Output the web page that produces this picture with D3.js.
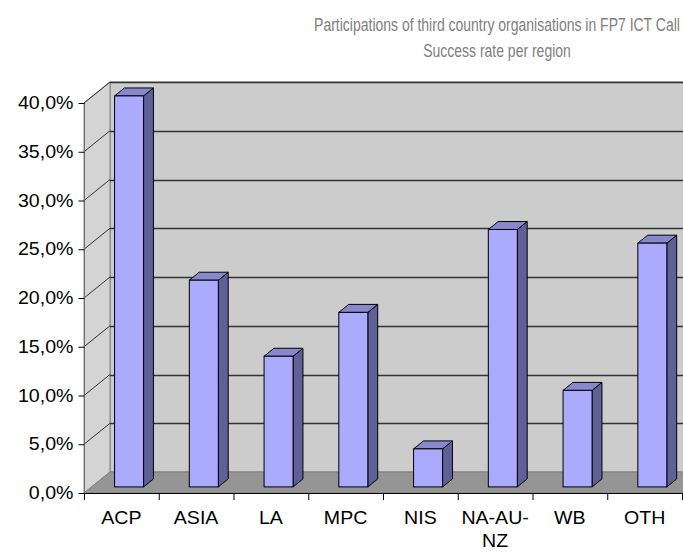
<!DOCTYPE html>
<html>
<head>
<meta charset="utf-8">
<script src="https://cdn.jsdelivr.net/npm/d3@7"></script>
<style>
  body { margin: 0; background: #fff; }
  svg { display: block; }
  text { font-family: "Liberation Sans", Arial, sans-serif; }
</style>
</head>
<body>
<svg width="683" height="552"></svg>
<script>
// Chart data
var categories = ['ACP', 'ASIA', 'LA', 'MPC', 'NIS', 'NA-AU-NZ', 'WB', 'OTH'];
var successRates = [0.401, 0.212, 0.134, 0.179, 0.039, 0.264, 0.099, 0.250];
var yTicks = [0, 0.05, 0.10, 0.15, 0.20, 0.25, 0.30, 0.35, 0.40];
var titleLines = ['Participations of third country organisations in FP7 ICT Call', 'Success rate per region'];

var data = categories.map(function(c, i) { return {cat: c, value: successRates[i]}; });

var svg = d3.select('svg');

// Front plane of the 3d box
var plot = {l: 84, r: 682, t: 103, b: 493};
// depth offset of the back wall
var depth = {dx: 26, dy: -21};
// bar sits between these depth fractions
var barFront = 0.29, barBack = 0.67;
// axis labels are a little wider than Liberation Sans
var labelStretch = 1.12;

var x = d3.scaleBand().domain(categories).range([plot.l, plot.r]);
var y = d3.scaleLinear().domain([0, 0.40]).range([plot.b, plot.t]);
var bw = x.bandwidth();

function off(t) { return [depth.dx * t, depth.dy * t]; }
var back = off(1);

// back wall
svg.append('rect')
    .attr('x', plot.l + back[0])
    .attr('y', plot.t + back[1])
    .attr('width', 700)
    .attr('height', plot.b - plot.t)
    .style('fill', '#cccccc')
    .style('stroke', '#808080');

// left side wall
svg.append('polygon')
    .attr('points', [[plot.l, plot.t], [plot.l + back[0], plot.t + back[1]],
        [plot.l + back[0], plot.b + back[1]], [plot.l, plot.b]].join(' '))
    .style('fill', '#d4d4d4')
    .style('stroke', '#808080');

// floor
svg.append('polygon')
    .attr('points', [[plot.l, plot.b], [plot.r, plot.b],
        [plot.r + back[0], plot.b + back[1]], [plot.l + back[0], plot.b + back[1]]].join(' '))
    .style('fill', '#959595')
    .style('stroke', '#808080');

// gridlines on the back wall and left wall
var grid = svg.append('g');
yTicks.filter(function(d) { return d > 0; }).forEach(function(d) {
    var yy = Math.round(y(d) + back[1]) + 0.5;
    grid.append('line')
        .attr('x1', plot.l + back[0]).attr('x2', 700)
        .attr('y1', yy).attr('y2', yy)
        .style('stroke', '#333')
        .style('stroke-width', 1.3);
    grid.append('line')
        .attr('x1', plot.l).attr('y1', y(d))
        .attr('x2', plot.l + back[0]).attr('y2', y(d) + back[1])
        .style('stroke', '#333');
});

// front edges
svg.append('line')
    .attr('x1', plot.l + 0.5).attr('x2', plot.l + 0.5)
    .attr('y1', plot.t).attr('y2', plot.b)
    .style('stroke', '#707070');
svg.append('line')
    .attr('x1', plot.l).attr('x2', plot.r)
    .attr('y1', plot.b + 0.5).attr('y2', plot.b + 0.5)
    .style('stroke', '#000');

// y axis
var yAxis = d3.axisLeft(y)
    .tickValues(yTicks)
    .tickSize(6)
    .tickPadding(5)
    .tickFormat(function(d) { return d3.format('.1f')(d * 100).replace('.', ',') + '%'; });

var yG = svg.append('g')
    .attr('transform', 'translate(' + (plot.l + 0.5) + ',0)')
    .call(yAxis);
yG.select('.domain').remove();
yG.selectAll('text').style('font-size', '17.5px').style('fill', '#000')
    .style('font-family', '"Liberation Sans", Arial, sans-serif')
    .attr('x', -11 / labelStretch)
    .attr('transform', 'scale(' + labelStretch + ',1)');
yG.selectAll('line').style('stroke', '#000');

// x axis
var xAxis = d3.axisBottom(x).tickSize(0).tickPadding(19);
var xG = svg.append('g')
    .attr('transform', 'translate(0,' + plot.b + ')')
    .call(xAxis);
xG.select('.domain').remove();
xG.selectAll('text').style('font-size', '17.5px').style('fill', '#000')
    .style('font-family', '"Liberation Sans", Arial, sans-serif')
    .attr('transform', 'scale(' + labelStretch + ',1)')
    .call(wrap, bw / labelStretch);

// category separators
xG.selectAll('.sep')
    .data(d3.range(categories.length + 1))
    .enter().append('line')
    .attr('class', 'sep')
    .attr('x1', function(i) { return plot.l + i * bw + 0.5; })
    .attr('x2', function(i) { return plot.l + i * bw + 0.5; })
    .attr('y1', 0).attr('y2', 7)
    .style('stroke', '#000');

// bars
var f = off(barFront), b = off(barBack);
var bars = svg.selectAll('.bar')
    .data(data)
    .enter().append('g')
    .attr('class', 'bar');

function barX(d) { return x(d.cat) + bw * 0.308 + f[0]; }
var barW = bw * 0.388;

// side face
bars.append('polygon')
    .attr('points', function(d) {
        var x1 = barX(d) + barW;
        return [[x1, y(d.value) + f[1]], [x1 + b[0] - f[0], y(d.value) + b[1]],
            [x1 + b[0] - f[0], y(0) + b[1]], [x1, y(0) + f[1]]].join(' ');
    })
    .style('fill', '#606098')
    .style('stroke', '#000')
    .style('stroke-linejoin', 'round');

// top face
bars.append('polygon')
    .attr('points', function(d) {
        var x0 = barX(d), yt = y(d.value);
        return [[x0, yt + f[1]], [x0 + b[0] - f[0], yt + b[1]],
            [x0 + barW + b[0] - f[0], yt + b[1]], [x0 + barW, yt + f[1]]].join(' ');
    })
    .style('fill', '#8888cc')
    .style('stroke', '#000')
    .style('stroke-linejoin', 'round');

// front face
bars.append('rect')
    .attr('x', barX)
    .attr('y', function(d) { return y(d.value) + f[1]; })
    .attr('width', barW)
    .attr('height', function(d) { return y(0) - y(d.value); })
    .style('fill', '#aaaaff')
    .style('stroke', '#000');

// title: a narrow face, done by squeezing Liberation Sans horizontally
var titleCx = 497, titleW = 366;
var title = svg.append('text')
    .attr('text-anchor', 'middle')
    .style('fill', '#808080')
    .style('font-size', '18.5px');
var tspans = title.selectAll('tspan')
    .data(titleLines)
    .enter().append('tspan')
    .attr('x', titleCx)
    .attr('y', function(d, i) { return 31 + i * 26; })
    .text(function(d) { return d; });
var sx = titleW / title.select('tspan').node().getComputedTextLength();
title.attr('transform', 'scale(' + sx + ',1)');
tspans.attr('x', titleCx / sx);

// wrap long category names after a hyphen, like the original
function wrap(sel, width) {
    sel.each(function() {
        var t = d3.select(this);
        var txt = t.text();
        if (this.getComputedTextLength() <= width - 4) return;
        var cut = txt.lastIndexOf('-', txt.length - 2);
        var first = txt.slice(0, cut + 1), rest = txt.slice(cut + 1);
        var yy = t.attr('y'), dy = t.attr('dy');
        t.text(null);
        t.append('tspan').attr('x', 0).attr('y', yy).attr('dy', dy).text(first);
        t.append('tspan').attr('x', 0).attr('y', yy).attr('dy', (parseFloat(dy) + 1.3) + 'em').text(rest);
    });
}
</script>
</body>
</html>
